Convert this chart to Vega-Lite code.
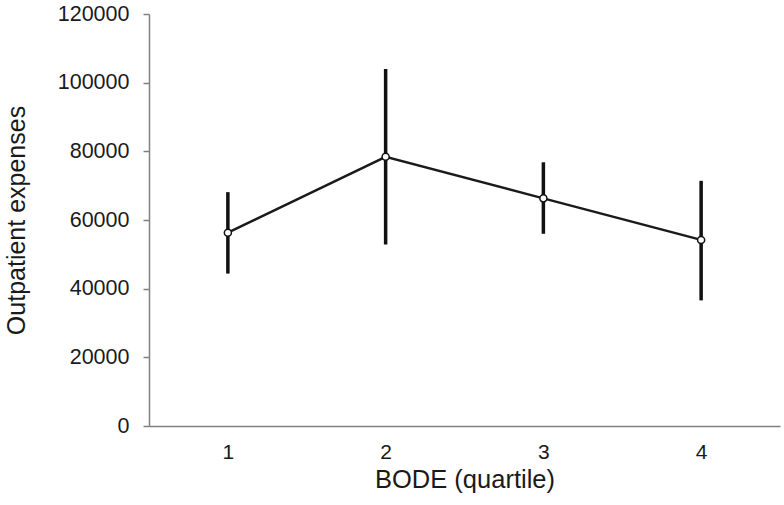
{
  "$schema": "https://vega.github.io/schema/vega-lite/v6.json",
  "width": 631,
  "height": 412,
  "autosize": {"type": "none"},
  "padding": {"left": 149, "top": 14, "right": 4, "bottom": 79},
  "background": "white",
  "config": {"view": {"stroke": null}, "font": "Liberation Sans"},
  "data": {
    "values": [
      {"quartile": "1", "mean": 56300, "low": 44900, "high": 67600},
      {"quartile": "2", "mean": 78400, "low": 53400, "high": 103500},
      {"quartile": "3", "mean": 66300, "low": 56500, "high": 76300},
      {"quartile": "4", "mean": 54200, "low": 37100, "high": 70900}
    ]
  },
  "encoding": {
    "x": {
      "field": "quartile",
      "type": "ordinal",
      "scale": {"type": "point", "padding": 0.5},
      "axis": {
        "title": "BODE (quartile)",
        "labelAngle": 0,
        "ticks": false,
        "labelPadding": 15,
        "labelFontSize": 21,
        "labelColor": "#1a1a1a",
        "domainColor": "#808080",
        "domainWidth": 1.5,
        "titleFontSize": 25.5,
        "titleFontWeight": "normal",
        "titleColor": "#1a1a1a",
        "titlePadding": 5,
        "grid": false
      }
    }
  },
  "layer": [
    {
      "mark": {"type": "rule", "strokeWidth": 3.5, "color": "#111111", "strokeCap": "square"},
      "encoding": {
        "y": {
          "field": "low",
          "type": "quantitative",
          "title": "Outpatient expenses",
          "scale": {"domain": [0, 120000], "nice": false, "zero": true},
          "axis": {
            "values": [0, 20000, 40000, 60000, 80000, 100000, 120000],
            "format": "d",
            "labelFontSize": 21.5,
            "labelColor": "#1a1a1a",
            "labelPadding": 14,
            "tickSize": 6,
            "tickColor": "#808080",
            "tickWidth": 1.5,
            "domainColor": "#808080",
            "domainWidth": 1.5,
            "titleFontSize": 25,
            "titleFontWeight": "normal",
            "titleColor": "#1a1a1a",
            "titlePadding": 28,
            "grid": false
          }
        },
        "y2": {"field": "high"}
      }
    },
    {
      "mark": {"type": "line", "color": "#1a1a1a", "strokeWidth": 2.5},
      "encoding": {
        "y": {"field": "mean", "type": "quantitative", "title": "Outpatient expenses"}
      }
    },
    {
      "mark": {"type": "point", "filled": true, "fill": "white", "stroke": "#111111", "strokeWidth": 1.5, "size": 50, "opacity": 1},
      "encoding": {
        "y": {"field": "mean", "type": "quantitative", "title": "Outpatient expenses"}
      }
    }
  ]
}
